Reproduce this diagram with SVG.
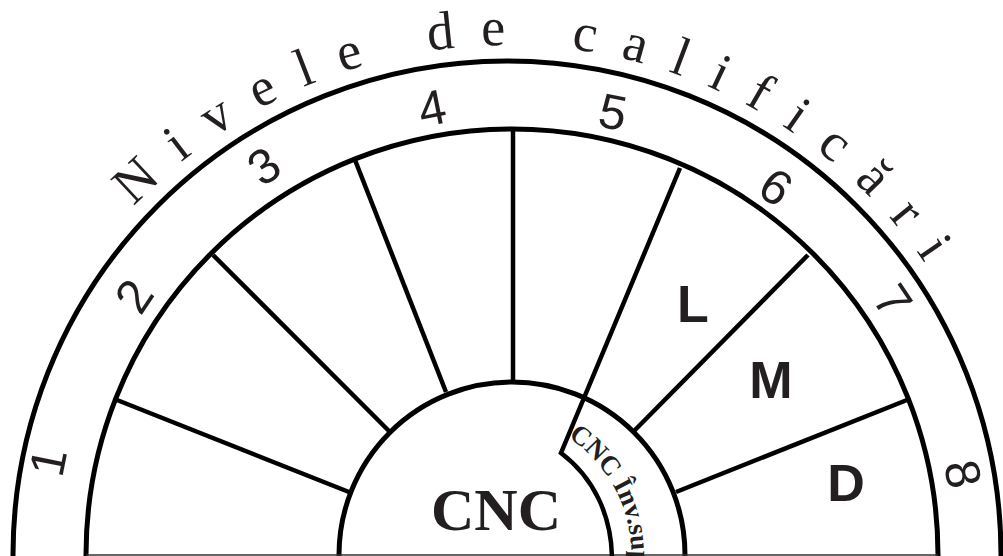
<svg xmlns="http://www.w3.org/2000/svg" width="1003" height="556" viewBox="0 0 1003 556">
<style>
.arc{fill:none;stroke:#000;stroke-width:5}
.dv{fill:none;stroke:#000;stroke-width:4.5;stroke-linejoin:miter}
.num{font-family:"Liberation Sans",Arial,sans-serif;font-size:49px;fill:#231f20;text-anchor:middle}
.lvl{font-family:"Liberation Sans",Arial,sans-serif;font-weight:bold;font-size:52px;fill:#231f20;text-anchor:middle}
.title{font-family:"Liberation Serif","Times New Roman",serif;font-size:54px;fill:#231f20;letter-spacing:26px}
.cnc{font-family:"Liberation Serif","Times New Roman",serif;font-weight:bold;fill:#231f20}
</style>
<defs>
<path id="titlePath" d="M 134 207 A 510 510 0 0 1 986 381"/>
<path id="supPath" d="M 568 437 A 143 143 0 0 1 626.1 595"/>
</defs>
<rect width="1003" height="556" fill="#fff"/>
<g id="title">
<text class="title"><textPath href="#titlePath">Nivele de calificări</textPath></text>
</g>
<g id="rings">
<path class="arc" d="M 13 560 L 13 555 A 494 494 0 0 1 1001 555 L 1001 560"/>
<path class="arc" d="M 86 560 L 86 555 A 426 426 0 0 1 938 555 L 938 560"/>
<path class="arc" d="M 339 560 L 339 555 A 173 173 0 0 1 685 555 L 685 560"/>
<line x1="86" y1="555" x2="938" y2="555" stroke="#333" stroke-width="1.5"/>
</g>
<g id="connectors">
<line class="dv" x1="117" y1="400" x2="349" y2="492"/>
<line class="dv" x1="213" y1="255" x2="390" y2="432"/>
<line class="dv" x1="355" y1="160" x2="446" y2="392"/>
<line class="dv" x1="513" y1="129" x2="513" y2="382"/>
<path class="dv" d="M 680 168 L 561 453 C 593 477 612 515 612 560"/>
<line class="dv" x1="808" y1="255" x2="634" y2="431"/>
<line class="dv" x1="907" y1="400" x2="676" y2="492"/>
</g>
<g id="levels">
<text class="num" transform="translate(48,462) rotate(-78.75)" y="17">1</text>
<text class="num" transform="translate(134,296) rotate(-56.25)" y="17">2</text>
<text class="num" transform="translate(264,166) rotate(-33.75)" y="17">3</text>
<text class="num" transform="translate(432,108) rotate(-11.25)" y="17">4</text>
<text class="num" transform="translate(613,112) rotate(11.25)" y="17">5</text>
<text class="num" transform="translate(776,187) rotate(33.75)" y="17">6</text>
<text class="num" transform="translate(893,301) rotate(56.25)" y="17">7</text>
<text class="num" transform="translate(963,474) rotate(78.75)" y="17">8</text>
</g>
<g id="node-L"><text class="lvl" x="693" y="322">L</text></g>
<g id="node-M"><text class="lvl" x="771" y="398">M</text></g>
<g id="node-D"><text class="lvl" x="846" y="501">D</text></g>
<g id="node-CNC"><text class="cnc" x="496" y="530" font-size="60" text-anchor="middle">CNC</text></g>
<g id="node-CNC-sup"><text class="cnc" font-size="27"><textPath href="#supPath">CNC Înv.sup</textPath></text></g>
</svg>
